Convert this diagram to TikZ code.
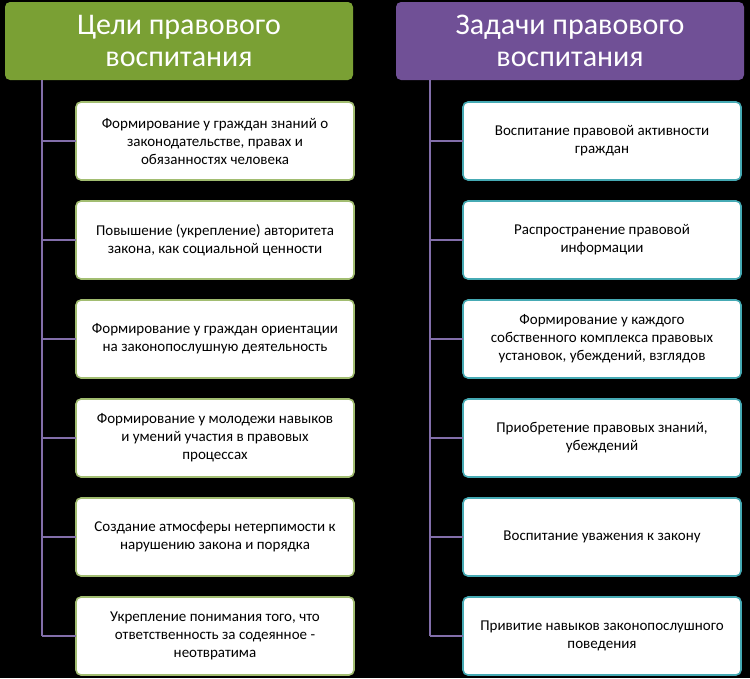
\documentclass[tikz,border=0pt]{standalone}
\usepackage{fontspec}
\setmainfont{Carlito}
\usepackage{xcolor}
\usetikzlibrary{positioning}
\definecolor{goalgreen}{RGB}{122,160,52}
\definecolor{taskpurple}{RGB}{112,80,150}
\definecolor{linkpurple}{RGB}{130,110,170}
\definecolor{tealborder}{RGB}{70,170,180}

\begin{document}
\begin{tikzpicture}[x=1pt,y=-1pt,
    outer sep=0pt,
    headbox/.style={rectangle,rounded corners=5pt,minimum width=348pt,minimum height=78pt,
                    text=white,font=\fontsize{30}{32}\selectfont,align=center},
    itembox/.style={draw,line width=1.6pt,fill=white,rectangle,rounded corners=5pt,
                    minimum width=278pt,minimum height=78pt,align=center,
                    font=\fontsize{15}{18}\selectfont},
    goalbox/.style={itembox,draw=goalgreen!70},
    taskbox/.style={itembox,draw=tealborder},
    link/.style={draw=linkpurple,line width=2.8pt},
    ]
    \fill[black] (0,0) rectangle (750,678);

    \node (goals) [headbox,fill=goalgreen] at (179,41) {Цели правового\\воспитания};
    \node (tasks) [headbox,fill=taskpurple] at (570,41) {Задачи правового\\воспитания};

    % left column
    \node (g1) [goalbox] at (215,141) {Формирование у граждан знаний о\\законодательстве, правах и\\обязанностях человека};
    \node (g2) [goalbox] at (215,240) {Повышение (укрепление) авторитета\\закона, как социальной ценности};
    \node (g3) [goalbox] at (215,339) {Формирование у граждан ориентации\\на законопослушную деятельность};
    \node (g4) [goalbox] at (215,438) {Формирование у молодежи навыков\\и умений участия в правовых\\процессах};
    \node (g5) [goalbox] at (215,537) {Создание атмосферы нетерпимости к\\нарушению закона и порядка};
    \node (g6) [goalbox] at (215,636) {Укрепление понимания того, что\\ответственность за содеянное -\\неотвратима};

    % right column
    \node (t1) [taskbox] at (602,141) {Воспитание правовой активности\\граждан};
    \node (t2) [taskbox] at (602,240) {Распространение правовой\\информации};
    \node (t3) [taskbox] at (602,339) {Формирование у каждого\\собственного комплекса правовых\\установок, убеждений, взглядов};
    \node (t4) [taskbox] at (602,438) {Приобретение правовых знаний,\\убеждений};
    \node (t5) [taskbox] at (602,537) {Воспитание уважения к закону};
    \node (t6) [taskbox] at (602,636) {Привитие навыков законопослушного\\поведения};

    \coordinate (gtrunk) at (42,0);
    \coordinate (ttrunk) at (430,0);
    \draw[link] (goals.south -| gtrunk) -- (g6.west -| gtrunk);
    \draw[link] (tasks.south -| ttrunk) -- (t6.west -| ttrunk);
    \foreach \i in {1,...,6} {
      \draw[link] (g\i.west -| gtrunk) -- (g\i.west);
      \draw[link] (t\i.west -| ttrunk) -- (t\i.west);
    }
\end{tikzpicture}
\end{document}
